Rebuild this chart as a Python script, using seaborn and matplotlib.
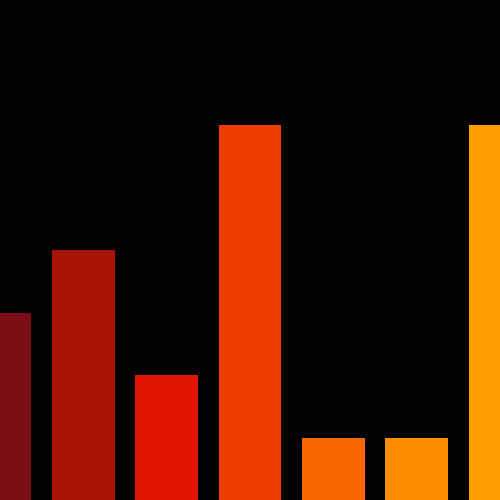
import pandas as pd
import matplotlib
matplotlib.use("Agg")
import matplotlib.pyplot as plt
import seaborn as sns

# bar data
categories = ["a", "b", "c", "d", "e", "f", "g"]
values = [3, 4, 2, 6, 1, 1, 6]
colors = ["#7a0e14", "#a71306", "#e01400", "#ee3c00", "#f76600", "#fd8c00", "#ffa000"]

df = pd.DataFrame({"cat": categories, "val": values})

fig = plt.figure(figsize=(5, 5), dpi=100, facecolor="#030203")
ax = fig.add_axes([0, 0, 1, 1])
ax.set_facecolor("#030203")

sns.barplot(data=df, x="cat", y="val", hue="cat", palette=colors,
            width=0.75, legend=False, ax=ax, saturation=1,
            edgecolor="none", linewidth=0)

ax.set_xlim(0, 6)
ax.set_ylim(0, 8)
ax.axis("off")

fig.savefig("out.png", dpi=100, facecolor="#030203")
